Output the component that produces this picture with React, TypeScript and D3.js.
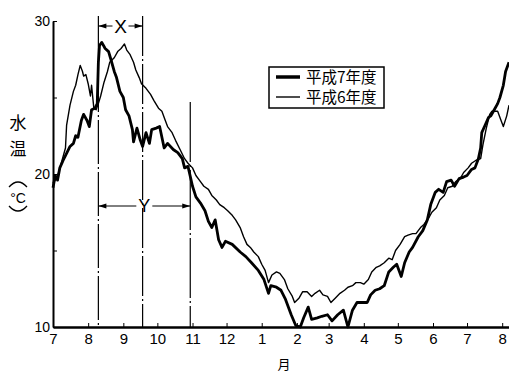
import React, { useRef, useEffect } from 'react'
import * as d3 from 'd3'

// days counted from 1 July, water temperature in °C
const h7Days = [0, 2, 4, 6, 9, 11, 15, 18, 20, 22, 25, 27, 30, 32, 34, 37, 39, 40, 41, 43, 46, 49, 51, 54, 56, 59, 62, 64, 67, 70, 71, 74, 77, 79, 82, 85, 87, 91, 94, 98, 101, 106, 110, 114, 116, 119, 123, 126, 130, 134, 137, 140, 143, 146, 149, 152, 158, 165, 170, 175, 181, 186, 190, 192, 197, 201, 205, 210, 214, 218, 221, 225, 228, 233, 237, 242, 246, 251, 256, 260, 264, 268, 272, 277, 280, 284, 288, 292, 296, 300, 303, 307, 310, 314, 317, 322, 326, 330, 333, 337, 340, 344, 347, 351, 354, 358, 362, 365, 369, 372, 375, 377, 378, 381, 384, 386, 389, 392, 394, 397, 399, 402]
const h7Temps = [19.1, 19.9, 19.6, 20.4, 20.9, 21.2, 21.8, 22.0, 22.5, 22.4, 23.5, 23.9, 23.5, 23.1, 24.2, 24.3, 24.6, 27.3, 28.4, 28.6, 28.2, 28.0, 27.5, 26.7, 26.3, 25.4, 25.0, 24.2, 23.8, 22.9, 22.1, 23.0, 22.2, 21.8, 22.7, 22.0, 22.9, 23.0, 23.1, 21.7, 22.0, 21.6, 21.4, 21.0, 20.4, 20.5, 19.2, 18.5, 18.1, 17.6, 16.9, 16.5, 17.0, 15.7, 15.2, 15.6, 15.4, 14.9, 14.6, 14.2, 13.7, 13.1, 12.2, 12.7, 12.6, 12.4, 11.8, 10.8, 10.1, 10.0, 10.6, 11.3, 10.5, 10.6, 10.7, 10.8, 10.4, 10.8, 11.1, 10.0, 11.1, 11.6, 11.6, 11.6, 12.1, 12.4, 12.5, 12.7, 13.6, 13.9, 14.1, 13.3, 14.2, 14.9, 15.2, 15.9, 16.3, 17.0, 18.0, 18.8, 19.0, 18.8, 19.5, 19.6, 19.2, 19.7, 19.8, 19.9, 20.3, 20.4, 21.0, 21.7, 22.7, 23.2, 23.7, 23.8, 24.2, 24.6, 25.0, 25.8, 26.7, 27.3]

const h6Days = [0, 3, 5, 8, 11, 12, 15, 18, 20, 22, 24, 26, 27, 29, 31, 33, 34, 36, 38, 40, 42, 45, 48, 50, 54, 57, 60, 63, 65, 68, 71, 73, 76, 78, 82, 86, 89, 93, 96, 99, 101, 105, 108, 112, 116, 119, 123, 126, 130, 133, 137, 140, 144, 147, 151, 154, 158, 161, 165, 168, 171, 174, 177, 181, 184, 187, 190, 193, 197, 200, 204, 207, 211, 213, 217, 220, 224, 228, 231, 235, 238, 242, 245, 249, 253, 257, 260, 264, 267, 271, 274, 278, 281, 285, 288, 292, 296, 299, 302, 306, 310, 313, 317, 320, 324, 327, 331, 334, 338, 341, 345, 348, 352, 355, 359, 362, 366, 369, 373, 377, 379, 382, 385, 387, 392, 395, 397, 400, 402]
const h6Temps = [19.4, 19.7, 20.1, 20.9, 21.7, 23.2, 24.5, 25.4, 25.8, 26.5, 27.1, 26.7, 26.4, 26.5, 25.9, 25.1, 25.8, 24.3, 24.2, 24.6, 25.1, 26.0, 26.7, 27.3, 27.6, 28.0, 28.2, 28.5, 28.1, 27.8, 27.3, 26.8, 26.3, 25.9, 25.6, 25.2, 24.8, 24.3, 24.1, 23.5, 23.1, 22.7, 22.2, 21.6, 21.0, 20.7, 20.4, 19.9, 19.5, 19.2, 19.0, 18.6, 18.3, 18.0, 17.8, 17.6, 17.3, 17.0, 16.5, 15.9, 15.4, 15.2, 14.9, 14.6, 14.1, 13.7, 12.9, 13.4, 13.6, 13.5, 13.1, 12.5, 12.0, 11.6, 11.9, 12.3, 12.3, 12.0, 12.2, 12.4, 12.1, 12.0, 11.6, 11.9, 12.2, 12.4, 12.6, 12.7, 12.9, 12.9, 12.8, 13.1, 13.6, 13.9, 14.0, 14.2, 14.5, 14.4, 15.0, 15.4, 15.9, 16.0, 16.1, 16.1, 16.5, 16.7, 17.1, 17.5, 17.8, 18.3, 18.6, 19.1, 19.2, 19.5, 19.7, 20.1, 20.4, 20.7, 20.9, 21.0, 21.9, 23.0, 23.9, 24.1, 24.1, 23.5, 23.1, 23.8, 24.5]

const yTicks = [10, 15, 20, 25, 30]
const yLabelled = [10, 20, 30]
const periodX = [40, 79]   // X期間
const periodY = [40, 121]  // Y期間
const legendNames = ['平成7年度', '平成6年度']

function App() {
    const svgRef = useRef(null)

    useEffect(() => {
        const width = 509
        const height = 374
        const margin = { top: 21, right: 0, bottom: 47, left: 53 }
        const start = new Date(1994, 6, 1)
        const toDate = d => d3.timeDay.offset(start, d)

        const svg = d3.select(svgRef.current)
        svg.selectAll('*').remove()

        const xScale = d3.scaleTime()
            .domain([start, toDate(402)])
            .range([margin.left, width - margin.right])

        const yScale = d3.scaleLinear()
            .domain([10, 30])
            .range([height - margin.bottom, margin.top])

        const line = d3.line()
            .x(d => xScale(toDate(d[0])))
            .y(d => yScale(d[1]))
            .curve(d3.curveLinear)

        const font = "'Liberation Sans', Arial, sans-serif"
        const cjk = "'Noto Sans CJK JP', sans-serif"

        // period guide lines
        const guide = svg.append('g').attr('stroke', '#000').attr('fill', 'none')
        guide.append('line')
            .attr('x1', xScale(toDate(periodX[0]))).attr('x2', xScale(toDate(periodX[0])))
            .attr('y1', 16).attr('y2', yScale(10))
            .attr('stroke-width', 1.2).attr('stroke-dasharray', '44 3 2 3')
        guide.append('line')
            .attr('x1', xScale(toDate(periodX[1]))).attr('x2', xScale(toDate(periodX[1])))
            .attr('y1', 16).attr('y2', yScale(10))
            .attr('stroke-width', 1.2).attr('stroke-dasharray', '40 3 2 3')
        guide.append('line')
            .attr('x1', xScale(toDate(periodY[1]))).attr('x2', xScale(toDate(periodY[1])))
            .attr('y1', 102).attr('y2', yScale(10))
            .attr('stroke-width', 1.2).attr('stroke-dasharray', '60 3 2 3')

        // arrows for X and Y
        function span(x0, x1, yPos, label, size) {
            const mid = (x0 + x1) / 2
            const g = svg.append('g')
            g.append('line').attr('x1', x0).attr('x2', mid - 8).attr('y1', yPos).attr('y2', yPos)
                .attr('stroke', '#000').attr('stroke-width', 1)
            g.append('line').attr('x1', mid + 8).attr('x2', x1).attr('y1', yPos).attr('y2', yPos)
                .attr('stroke', '#000').attr('stroke-width', 1)
            g.append('path').attr('d', `M${x0},${yPos}l8,-2.5v5z`).attr('fill', '#000')
            g.append('path').attr('d', `M${x1},${yPos}l-8,-2.5v5z`).attr('fill', '#000')
            g.append('text').attr('x', mid).attr('y', yPos + size * 0.36)
                .attr('text-anchor', 'middle').attr('font-family', font)
                .attr('font-size', size).text(label)
        }
        span(xScale(toDate(periodX[0])), xScale(toDate(periodX[1])), 26, 'X', 19)
        span(xScale(toDate(periodY[0])), xScale(toDate(periodY[1])), 206, 'Y', 18)

        // series
        svg.append('path')
            .datum(d3.zip(h6Days, h6Temps))
            .attr('d', line)
            .attr('fill', 'none').attr('stroke', '#000')
            .attr('stroke-width', 1.4).attr('stroke-linejoin', 'round')
        svg.append('path')
            .datum(d3.zip(h7Days, h7Temps))
            .attr('d', line)
            .attr('fill', 'none').attr('stroke', '#000')
            .attr('stroke-width', 2.8).attr('stroke-linejoin', 'round')

        // axes
        function yAxis(g) {
            g.attr('transform', `translate(${margin.left}, 0)`)
                .call(d3.axisLeft(yScale).tickValues(yTicks)
                    .tickFormat(d => yLabelled.includes(d) ? d : '')
                    .tickSizeInner(-4).tickSizeOuter(0).tickPadding(3))
            g.select('.domain').attr('stroke-width', 2)
            g.selectAll('text').attr('font-family', font).attr('font-size', 14).attr('fill', '#000')
        }

        function xAxis(g) {
            g.attr('transform', `translate(0, ${yScale(10)})`)
                .call(d3.axisBottom(xScale).ticks(d3.timeMonth.every(1))
                    .tickFormat(d3.timeFormat('%-m'))
                    .tickSizeInner(-4).tickSizeOuter(0).tickPadding(6))
            g.select('.domain').attr('stroke-width', 2.6)
            g.selectAll('text').attr('font-family', font).attr('font-size', 15).attr('fill', '#000')
        }

        svg.append('g').call(yAxis)
        svg.append('g').call(xAxis)

        // axis titles (vertical writing, unit in vertical brackets)
        svg.append('text').attr('x', 18).attr('y', 129).attr('text-anchor', 'middle')
            .attr('font-family', cjk).attr('font-size', 17).text('水')
        svg.append('text').attr('x', 18).attr('y', 155).attr('text-anchor', 'middle')
            .attr('font-family', cjk).attr('font-size', 17).text('温')
        svg.append('path').attr('d', 'M9,187 Q18,177 27,187')
            .attr('fill', 'none').attr('stroke', '#000').attr('stroke-width', 1.3)
        svg.append('text').attr('x', 18).attr('y', 203).attr('text-anchor', 'middle')
            .attr('font-family', font).attr('font-size', 14).text('°C')
        svg.append('path').attr('d', 'M9,206 Q18,216 27,206')
            .attr('fill', 'none').attr('stroke', '#000').attr('stroke-width', 1.3)
        svg.append('text').attr('x', 284).attr('y', 369).attr('text-anchor', 'middle')
            .attr('font-family', cjk).attr('font-size', 13).text('月')

        // legend
        const legend = svg.append('g').attr('transform', 'translate(269, 67)')
        legend.append('rect').attr('width', 115).attr('height', 41)
            .attr('fill', '#fff').attr('stroke', '#000').attr('stroke-width', 1.5)
        legendNames.forEach((name, i) => {
            const ly = 10 + i * 20
            legend.append('line').attr('x1', 7).attr('x2', 31).attr('y1', ly).attr('y2', ly)
                .attr('stroke', '#000').attr('stroke-width', i === 0 ? 3.5 : 1.4)
            legend.append('text').attr('x', 37).attr('y', ly + 6)
                .attr('font-family', cjk).attr('font-size', 15.5).text(name)
        })
    }, [])

    return (
        <svg ref={svgRef} width={509} height={374}
            style={{ position: 'absolute', left: 0, top: 0, background: '#fff' }}></svg>
    )
}

export default App
